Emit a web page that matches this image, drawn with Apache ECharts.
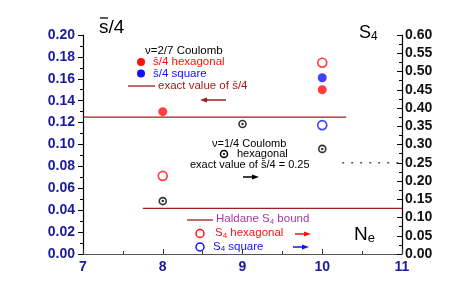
<!DOCTYPE html>
<html><head><meta charset="utf-8">
<script src="https://cdn.jsdelivr.net/npm/echarts@6/dist/echarts.min.js"></script>
<style>html,body{margin:0;padding:0;background:#fff}#c{width:467px;height:305px}</style>
</head><body><div id="c"></div>
<script>
// x: number of electrons Ne
var xTicks = [7, 8, 9, 10, 11];
// nu=2/7 Coulomb, s/4 (left axis)
var sHexFilled = [[8, 0.130], [10, 0.150]];
var sSquareFilled = [[10, 0.161]];
var exactS4 = [[7, 0.125], [10.3, 0.125]];
// S4 (right axis)
var S4Hex = [[8, 0.214], [10, 0.524]];
var S4Square = [[10, 0.353]];
// nu=1/4 Coulomb hexagonal (right axis)
var nu14Hex = [[8, 0.145], [9, 0.356], [10, 0.288]];
var exact025 = [[10.25, 0.25], [11, 0.25]];
var haldane = [[7.75, 0.125], [11, 0.125]];

var NAVY = '#1a1a9e', RED = '#ff1010', BLUE = '#1010ff', DRED = '#a01c1c', PURP = '#a03aa8';
var FF = 'Liberation Sans, Arial, sans-serif';
var chart = echarts.init(document.getElementById('c'), null, {renderer: 'canvas'});

function txt(x, y, t, color, size) {
  return {type: 'text', left: x, top: y, style: {text: t, fill: color, font: (size || 11) + 'px ' + FF}};
}
var sub = function (c, s) { return {a: {fontSize: s || 11.5, fill: c, fontFamily: FF}, b: {fontSize: 8, fill: c, fontFamily: FF, padding: [5, 0, 0, 0]}}; };
function arrow(x1, x2, y, color) {
  var dir = x2 > x1 ? 1 : -1;
  return [
    {type: 'line', shape: {x1: x1, y1: y, x2: x2 - dir * 5, y2: y}, style: {stroke: color, lineWidth: 1.5}},
    {type: 'polygon', shape: {points: [[x2, y], [x2 - dir * 7, y - 2.5], [x2 - dir * 7, y + 2.5]]}, style: {fill: color}}
  ];
}
var g = [];
// big titles
g.push({type: 'text', left: 99, top: 18, style: {text: 's/4', fill: '#000', font: '19px ' + FF}});
g.push({type: 'line', shape: {x1: 100, y1: 18, x2: 108, y2: 18}, style: {stroke: '#000', lineWidth: 1.3}});
g.push({type: 'text', left: 359, top: 24, style: {text: '{a|S}{b|4}', rich: {a: {fontSize: 18, fill: '#000', fontFamily: FF}, b: {fontSize: 12, fill: '#000', fontFamily: FF, padding: [8, 0, 0, 0]}}}});
g.push({type: 'text', left: 354, top: 225, style: {text: '{a|N}{b|e}', rich: {a: {fontSize: 19, fill: '#000', fontFamily: FF}, b: {fontSize: 13, fill: '#000', fontFamily: FF, padding: [8, 0, 0, 0]}}}});
// nu=2/7 legend
g.push(txt(145, 44.5, 'ν=2/7 Coulomb', '#000', 11.5));
g.push({type: 'circle', shape: {cx: 141, cy: 62, r: 4}, style: {fill: RED}});
g.push(txt(153, 56, 's̄/4 hexagonal', RED, 11.5));
g.push({type: 'circle', shape: {cx: 141, cy: 73.5, r: 4}, style: {fill: BLUE}});
g.push(txt(153, 67.5, 's̄/4 square', BLUE, 11.5));
g.push({type: 'line', shape: {x1: 128, y1: 86, x2: 155, y2: 86}, style: {stroke: DRED, lineWidth: 1.3}});
g.push(txt(158, 80, 'exact value of s̄/4', DRED, 11.5));
g = g.concat(arrow(226, 200, 100, DRED));
// nu=1/4 legend
g.push(txt(212, 138.5, 'ν=1/4 Coulomb', '#000', 11));
g.push({type: 'circle', shape: {cx: 224, cy: 154, r: 3.5}, style: {fill: '#fff', stroke: '#000', lineWidth: 1.5}});
g.push({type: 'circle', shape: {cx: 224, cy: 154, r: 1}, style: {fill: '#000'}});
g.push(txt(237, 148.5, 'hexagonal', '#000', 11));
g.push(txt(190, 159.5, 'exact value of s̄/4 = 0.25', '#000', 11));
g = g.concat(arrow(243, 259, 177, '#000'));
// S4 legends
g.push({type: 'line', shape: {x1: 187, y1: 220, x2: 213, y2: 220}, style: {stroke: DRED, lineWidth: 1.3}});
g.push({type: 'text', left: 216, top: 213, style: {text: '{a|Haldane S}{b|4}{a| bound}', rich: sub(PURP)}});
g.push({type: 'circle', shape: {cx: 200, cy: 233.5, r: 4}, style: {fill: '#fff', stroke: RED, lineWidth: 1.5}});
g.push({type: 'text', left: 215, top: 227, style: {text: '{a|S}{b|4}{a| hexagonal}', rich: sub(RED)}});
g = g.concat(arrow(295, 311, 234, RED));
g.push({type: 'circle', shape: {cx: 200, cy: 247, r: 4}, style: {fill: '#fff', stroke: BLUE, lineWidth: 1.5}});
g.push({type: 'text', left: 213, top: 240.5, style: {text: '{a|S}{b|4}{a| square}', rich: sub(BLUE)}});
g = g.concat(arrow(293, 309, 247, BLUE));

var axisLbl = function (c) { return {color: c, fontWeight: 'bold', fontSize: 14, fontFamily: FF}; };
chart.setOption({
  animation: false,
  grid: {left: 83, right: 65, top: 35, bottom: 51},
  xAxis: {
    type: 'value', min: xTicks[0], max: xTicks[xTicks.length - 1], interval: 1,
    axisLine: {lineStyle: {color: '#555', width: 1}},
    axisTick: {inside: true, length: 5, lineStyle: {color: '#333'}},
    minorTick: {show: true, splitNumber: 2, length: 3, lineStyle: {color: '#333'}},
    splitLine: {show: false},
    axisLabel: Object.assign(axisLbl(NAVY), {margin: 6})
  },
  yAxis: [{
    type: 'value', min: 0, max: 0.2, interval: 0.02, position: 'left',
    axisLine: {show: true, lineStyle: {color: '#000', width: 1.2}},
    axisTick: {show: true, length: 5, lineStyle: {color: '#000'}},
    minorTick: {show: true, splitNumber: 2, length: 3, lineStyle: {color: '#000'}},
    splitLine: {show: false},
    axisLabel: Object.assign(axisLbl(NAVY), {margin: 8, formatter: function (v) { return v.toFixed(2); }})
  }, {
    type: 'value', min: 0, max: 0.6, interval: 0.05, position: 'right',
    axisLine: {show: true, lineStyle: {color: '#000', width: 1.2}},
    axisTick: {show: true, inside: true, length: 5, lineStyle: {color: '#000'}},
    minorTick: {show: true, splitNumber: 2, length: 3, lineStyle: {color: '#000'}},
    splitLine: {show: false},
    axisLabel: Object.assign(axisLbl('#111'), {margin: 3, formatter: function (v) { return v.toFixed(2); }})
  }],
  series: [
    {type: 'line', yAxisIndex: 0, data: exactS4, symbol: 'none', lineStyle: {color: DRED, width: 1.3}},
    {type: 'line', yAxisIndex: 1, data: haldane, symbol: 'none', lineStyle: {color: DRED, width: 1.3}},
    {type: 'line', yAxisIndex: 1, data: exact025, symbol: 'none', lineStyle: {color: '#555', width: 1.5, type: [2, 7]}},
    {type: 'scatter', yAxisIndex: 0, data: sHexFilled, symbolSize: 9, itemStyle: {color: RED}},
    {type: 'scatter', yAxisIndex: 0, data: sSquareFilled, symbolSize: 9, itemStyle: {color: BLUE}},
    {type: 'scatter', yAxisIndex: 1, data: S4Hex, symbolSize: 9, itemStyle: {color: '#fff', borderColor: RED, borderWidth: 1.6}},
    {type: 'scatter', yAxisIndex: 1, data: S4Square, symbolSize: 9, itemStyle: {color: '#fff', borderColor: BLUE, borderWidth: 1.6}},
    {type: 'scatter', yAxisIndex: 1, data: nu14Hex, symbolSize: 7, itemStyle: {color: '#fff', borderColor: '#000', borderWidth: 1.6}},
    {type: 'scatter', yAxisIndex: 1, data: nu14Hex, symbolSize: 2.5, itemStyle: {color: '#000'}, z: 3}
  ],
  graphic: g
});
</script></body></html>
